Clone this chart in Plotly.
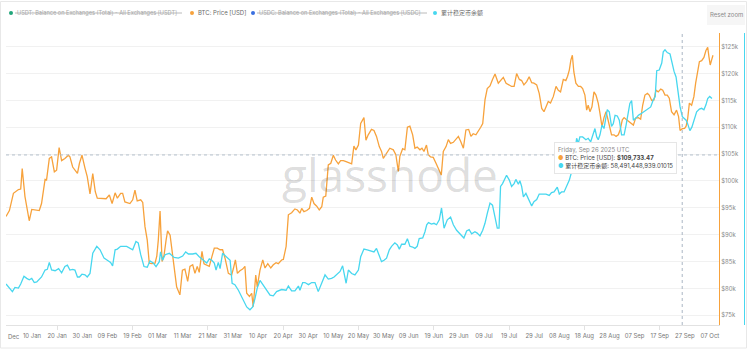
import plotly.graph_objects as go
import pandas as pd

# ---------------- data ----------------
# days since 2025-01-01
btc_days = [
    -1.35, 0.0, 1.6, 3.6, 4.5, 5.1, 6.2, 7.9, 8.9, 11.9,
    12.8, 14.2, 14.8, 15.9, 16.8, 17.9, 18.8, 19.8, 20.8, 22.1,
    23.5, 24.1, 25.2, 27.1, 27.9, 28.9, 30.1, 31.0, 32.1, 33.2,
    34.2, 35.0, 38.5, 39.8, 40.9, 42.1, 43.0, 44.3,
    45.1, 46.0, 48.0, 49.1, 50.0, 50.9, 52.3, 53.1, 54.0, 54.9,
    55.7, 56.7, 58.0, 58.7, 59.3, 60.0, 60.8, 61.6, 62.4, 63.0,
    64.0, 64.6, 65.6, 66.6, 67.9, 68.9, 69.9, 71.0, 71.9, 73.0,
    73.9, 74.8, 75.6, 76.7, 77.5, 78.6, 79.6, 80.7, 81.6, 82.8,
    83.9, 84.9, 85.9, 87.2, 88.5, 89.2, 90.0, 90.8, 91.8,
    92.9, 93.8, 94.5, 95.6, 96.5, 97.1, 98.1, 98.7, 99.8, 100.9,
    101.8, 102.9, 104.1, 105.1, 106.2, 107.1, 108.4, 109.1, 110.2, 111.1,
    112.4, 113.7, 114.7, 115.7, 116.4, 117.3, 118.4, 119.5, 120.4, 121.3,
    122.4, 123.4, 124.4, 125.0, 126.0, 127.0, 128.0, 129.0, 129.9, 131.0,
    131.9, 133.0, 134.1, 135.4, 136.3, 137.2, 138.0, 139.0, 139.9,
    141.2, 142.0, 142.9, 144.2, 145.2, 146.2, 147.3, 148.2, 148.9, 150.2,
    151.5, 152.9, 153.9, 154.9, 155.5, 156.6, 157.5, 158.5, 159.5, 160.6,
    161.5, 162.4, 163.5, 164.3, 165.1, 166.1, 166.8, 167.7, 168.8, 169.9,
    170.9, 172.0, 172.8, 173.9, 174.8, 175.7, 176.8, 177.8, 178.8, 179.7,
    180.8, 181.8, 182.9, 183.8, 184.7, 185.8, 186.7, 187.7,
    188.5, 189.4, 190.3, 191.4, 192.4, 193.4, 194.7, 195.6, 196.7, 197.8,
    198.7, 200.0, 201.0, 202.0, 203.1, 204.0, 204.9, 206.0, 207.0, 208.0,
    208.9, 210.0, 211.0, 212.0, 212.9, 213.7, 214.6, 215.5, 216.6, 217.7,
    218.6, 219.5, 220.6, 221.6, 222.3, 223.0, 223.6, 224.2, 224.8, 225.6,
    226.6, 227.5, 228.3, 229.2, 229.9, 230.5, 231.2, 232.0, 232.8, 233.6,
    234.5, 235.2, 236.0,
    236.8, 237.6, 238.4, 239.2, 239.8, 240.8, 241.6, 242.5, 243.2, 244.1,
    244.8, 245.8, 246.9, 247.8, 248.5, 249.4, 250.5, 251.4, 252.2, 253.1,
    254.1, 254.8, 255.8, 256.7, 257.5, 258.4, 259.4, 260.2, 261.1, 262.0,
    262.8, 263.7, 264.7, 265.7, 266.5, 267.1, 268.0, 268.9, 269.5, 270.1,
    270.8, 271.7, 272.6, 273.3, 274.0, 274.8, 275.7, 276.6, 277.4, 278.1,
    278.6, 279.1, 279.7, 280.2,
]
# BTC price, thousands of USD
btc_price = [
    93.4, 94.5, 97.7, 98.4, 98.5, 102.3, 97.1, 92.6, 94.7, 94.5,
    95.8, 100.3, 100.2, 104.2, 104.5, 101.7, 102.0, 106.2, 103.8, 104.2,
    104.8, 104.5, 102.6, 101.4, 103.3, 104.8, 102.4, 100.8, 97.6, 101.4,
    98.0, 96.8, 96.7, 97.4, 95.8, 97.8, 96.8, 97.7,
    97.7, 96.1, 95.8, 96.5, 98.3, 96.3, 96.5, 96.0, 91.5, 89.0,
    84.7, 84.6, 84.7, 86.0, 89.0, 94.4, 85.0, 86.2, 89.0, 90.7,
    89.9, 87.8, 84.1, 80.3, 78.8, 83.4, 83.6, 81.3, 84.1, 84.4,
    82.8, 84.1, 83.0, 86.9, 84.6, 84.3, 84.1, 86.0, 87.5, 87.5,
    87.2, 87.2, 85.6, 82.8, 82.5, 83.7, 85.3, 82.8, 83.3,
    83.6, 84.1, 79.1, 78.5, 79.1, 76.6, 82.5, 80.3, 83.4, 85.3,
    83.8, 84.6, 83.8, 84.4, 84.8, 84.6, 85.3, 85.4, 87.8, 93.7,
    94.1, 94.8, 94.6, 94.0, 94.9, 94.3, 94.5, 94.9, 97.0, 95.8,
    95.3, 94.6, 95.2, 97.0, 97.2, 103.0, 103.3, 104.8, 103.9, 103.2,
    103.8, 103.8, 103.6, 103.3, 103.2, 106.5, 105.8, 106.7, 110.7,
    111.8, 107.6, 108.6, 109.6, 109.4, 108.3, 106.4, 105.5, 104.2, 105.2,
    106.1, 105.8, 104.9, 101.8, 104.6, 106.0, 105.8, 110.0, 110.2, 108.6,
    106.1, 106.3, 105.8, 106.1, 105.5, 106.7, 104.9, 104.5, 104.4, 103.3,
    102.3, 101.1, 105.5, 106.4, 107.7, 107.0, 107.2, 107.7, 108.3, 107.4,
    106.1, 109.5, 109.6, 108.3, 108.8, 108.6, 109.4, 110.0,
    110.7, 115.1, 117.2, 117.7, 118.9, 119.9, 118.2, 118.8, 119.3, 118.2,
    117.9, 117.6, 117.6, 120.0, 118.9, 118.7, 117.9, 118.5, 119.4, 118.3,
    118.2, 117.9, 116.3, 113.5, 112.9, 113.8, 114.8, 114.5, 115.7, 117.6,
    116.9, 116.6, 118.9, 118.7, 119.5, 120.7, 122.5, 123.4, 120.3, 118.2,
    117.6, 117.6, 117.2, 116.0, 113.2, 114.1, 112.9, 113.8, 116.6, 116.0,
    114.5, 112.6, 110.1,
    111.8, 112.9, 111.4, 109.8, 108.6, 108.6, 108.3, 108.6, 109.5, 111.4,
    111.8, 111.4, 111.0, 110.7, 110.4, 111.7, 111.8, 111.5, 114.1, 116.0,
    116.3, 116.0, 115.0, 115.1, 116.9, 116.6, 117.1, 116.9, 116.0, 116.0,
    115.4, 112.9, 112.3, 113.2, 112.0, 109.4, 109.73, 109.8, 110.2, 111.5,
    114.5, 114.1, 115.7, 118.2, 120.3, 122.2, 122.4, 123.0, 124.3, 124.9,
    123.1, 121.6, 122.6, 123.4,
]

stable_days = [
    -1.35, 0.0, 1.2, 2.2, 3.6, 4.5, 5.8, 6.9, 7.9, 8.9,
    9.9, 10.9, 12.8, 14.2, 15.1, 15.9, 16.8, 18.2, 19.6, 20.8,
    22.1, 23.1, 24.1, 25.2, 26.1, 27.1, 27.9, 28.9, 30.1, 31.0,
    32.1, 33.2, 34.8, 36.1, 37.7, 39.0, 40.3, 41.1, 42.1, 43.0, 44.3,
    46.7, 48.0, 49.1, 50.4, 51.3, 52.3, 53.6, 54.9, 56.0, 57.3,
    58.4, 59.7, 60.2, 61.0, 62.0, 63.7, 65.6, 67.3, 69.0, 70.2,
    71.3, 73.0, 74.3, 75.6, 77.2, 78.6, 79.6, 80.6, 81.6, 82.3,
    83.2, 83.9, 84.9, 86.3, 87.9, 88.7, 89.8, 91.2, 92.1,
    93.2, 94.5, 95.8, 96.9, 97.8, 98.7, 99.8, 100.9, 102.2, 103.8,
    105.1, 106.4, 108.4, 110.2, 111.1, 112.4, 113.7, 115.1, 115.7, 116.8,
    117.7, 119.1, 120.4, 121.7, 123.0, 124.4, 125.7, 127.0, 128.3, 129.3,
    130.6, 131.7, 132.7, 133.3, 134.1, 135.0, 136.3, 137.6, 139.0, 139.9,
    141.2, 142.5, 143.8, 145.2, 146.2, 147.3, 148.2, 149.2, 150.2, 151.3,
    152.2, 153.5, 154.5, 155.3, 156.2, 157.5, 158.5, 159.5, 160.6, 161.5,
    162.4, 163.2, 164.6, 165.5, 166.2, 166.9, 168.1, 169.1, 170.1, 171.2,
    172.1, 173.1, 174.4, 175.7, 176.8, 178.1, 179.4, 181.0, 182.1, 183.1,
    184.1, 185.4, 186.3, 187.4,
    188.5, 189.4, 190.3, 191.4, 192.4, 193.4, 194.3, 195.0, 195.6, 196.4,
    197.4, 198.0, 199.1, 200.0, 201.0, 201.7, 202.7, 203.3, 204.0, 204.7,
    205.7, 206.6, 208.0, 208.9, 210.0, 211.0, 212.4, 213.7, 215.0, 215.9,
    216.9, 218.2, 219.0, 219.9, 220.9, 221.9, 223.0, 223.9, 224.8, 225.9,
    226.6, 227.2, 228.3, 229.6, 230.5, 231.5, 232.3, 233.2, 233.9, 234.5,
    235.2, 236.0,
    236.8, 238.1, 238.9, 239.8, 240.5, 241.2, 242.1, 242.9, 243.8, 244.8,
    245.6, 246.4, 247.1, 247.8, 248.5, 249.5, 250.5, 251.4, 252.5, 253.5,
    254.5, 255.4, 256.4, 257.2, 257.8, 258.8, 259.8, 260.4, 261.1, 262.0,
    263.1, 263.9, 264.7, 265.5, 266.3, 267.1, 268.0, 268.7, 269.5, 270.1,
    271.0, 271.8, 272.8, 273.7, 274.8, 275.7, 276.6, 277.4, 278.1, 278.9,
    279.8,
]
# cumulative stablecoin balance on exchanges, billions of USD
stable_total = [
    34.5, 33.9, 33.4, 34.0, 33.9, 34.5, 35.6, 35.3, 35.1, 35.3,
    34.7, 34.8, 35.5, 36.5, 36.6, 37.6, 36.5, 36.4, 36.7, 36.1,
    37.0, 37.2, 36.5, 36.6, 36.5, 35.5, 35.5, 35.9, 35.8, 35.5,
    36.0, 38.9, 39.9, 39.4, 38.2, 37.9, 37.6, 37.1, 39.4, 39.5, 39.9,
    39.9, 39.6, 39.4, 40.6, 40.4, 38.7, 37.0, 36.9, 37.8, 37.5,
    37.0, 37.7, 39.1, 37.9, 38.7, 38.9, 38.3, 38.2, 38.5, 39.1,
    38.8, 38.8, 38.9, 38.4, 37.9, 37.5, 38.1, 37.9, 37.5, 36.5,
    37.6, 36.7, 38.9, 38.4, 37.9, 34.6, 34.4, 33.6, 32.9,
    32.2, 31.2, 30.8, 31.2, 32.4, 33.9, 35.0, 34.4, 33.6, 32.9,
    32.8, 33.4, 33.7, 33.6, 34.2, 33.5, 33.5, 34.2, 33.6, 34.7,
    34.7, 34.4, 34.7, 34.7, 33.4, 34.6, 35.8, 35.2, 35.3, 35.5,
    36.0, 36.3, 37.1, 35.8, 34.6, 36.5, 36.0, 35.8, 36.5, 38.4,
    39.5, 39.4, 39.3, 39.1, 39.6, 38.7, 37.7, 37.9, 38.2, 39.4,
    39.9, 40.4, 40.1, 39.5, 40.2, 40.2, 41.0, 39.9, 39.8, 39.6,
    39.9, 41.0, 41.1, 42.0, 43.0, 43.3, 43.1, 43.2, 43.0, 43.7,
    45.4, 42.5, 43.7, 44.1, 43.0, 42.2, 41.7, 41.1, 42.1, 42.3,
    41.7, 42.0, 41.8, 41.4,
    42.2, 43.2, 44.6, 46.1, 45.8, 44.2, 42.5, 42.5, 48.5, 48.9,
    49.7, 50.1, 49.4, 48.5, 48.9, 49.5, 48.8, 49.3, 48.5, 47.0,
    47.5, 46.8, 45.7, 46.3, 46.6, 47.4, 47.4, 47.4, 47.2, 47.6,
    47.7, 48.4, 47.4, 47.7, 47.7, 48.5, 49.4, 50.6, 52.3, 55.4,
    54.7, 55.6, 55.6, 55.2, 55.4, 54.9, 55.9, 56.8, 55.6, 55.2,
    55.9, 57.3,
    56.8, 59.5, 59.2, 57.1, 57.5, 58.7, 58.6, 58.0, 55.9, 55.9,
    57.3, 59.0, 60.4, 60.8, 58.0, 58.3, 58.7, 58.9, 59.2, 59.4,
    59.7, 59.9, 60.9, 61.4, 65.1, 65.2, 66.2, 67.8, 68.1, 67.7,
    67.5, 66.2, 65.0, 64.2, 61.6, 59.9, 58.49, 58.3, 58.0, 57.5,
    56.5, 57.0, 58.3, 59.2, 59.6, 59.7, 59.5, 60.2, 61.1, 61.4,
    61.1,
]

legend_names = [
    "USDT: Balance on Exchanges (Total) - All Exchanges [USDT]",
    "BTC: Price [USD]",
    "USDC: Balance on Exchanges (Total) - All Exchanges [USDC]",
    "累计稳定币余额",
]
# x tick positions (label text comes from the date format "%d %b")
x_tick_dates = [
    "2025-01-10", "2025-01-20", "2025-01-30", "2025-02-09", "2025-02-19",
    "2025-03-01", "2025-03-11", "2025-03-21", "2025-03-31", "2025-04-10",
    "2025-04-20", "2025-04-30", "2025-05-10", "2025-05-20", "2025-05-30",
    "2025-06-09", "2025-06-19", "2025-06-29", "2025-07-09", "2025-07-19",
    "2025-07-29", "2025-08-08", "2025-08-18", "2025-08-28", "2025-09-07",
    "2025-09-17", "2025-09-27", "2025-10-07",
]
first_tick_label = "Dec"
tooltip_date = "Friday, Sep 26 2025 UTC"
tooltip_day = 267.95
tooltip_btc = "$109,733.47"
tooltip_stable = "58,491,448,939.01015"
crosshair_price = 104.85

# ---------------- styling ----------------
ORANGE = "#f7a23c"
CYAN = "#47d7ef"
FONT = "Inter, Noto Sans CJK SC, sans-serif"

W, H = 747, 349
ML, MR, MT, MB = 6, 3, 33, 24
PW = W - ML - MR
PH = H - MT - MB


def px(x):
    return (x - ML) / PW


def py(y):
    return (H - MB - y) / PH


XDOM = (719 - ML) / PW
base = pd.Timestamp("2025-01-01")


def to_dates(days):
    return [base + pd.Timedelta(days=d) for d in days]


fig = go.Figure()
fig.add_trace(go.Scatter(
    x=to_dates(btc_days), y=btc_price, mode="lines", name=legend_names[1],
    line=dict(color=ORANGE, width=1.3), yaxis="y", showlegend=False,
))
fig.add_trace(go.Scatter(
    x=to_dates(stable_days), y=stable_total, mode="lines", name=legend_names[3],
    line=dict(color=CYAN, width=1.3), yaxis="y2", showlegend=False,
))

shapes = []
annotations = []

# outer frame
shapes.append(dict(type="rect", xref="paper", yref="paper",
                   x0=px(0.5), x1=px(746.5), y0=py(348), y1=py(1.5),
                   line=dict(color="#e8e8e8", width=1), layer="below"))

# crosshair lines
shapes.append(dict(type="line", xref="x", yref="paper",
                   x0=base + pd.Timedelta(days=tooltip_day),
                   x1=base + pd.Timedelta(days=tooltip_day),
                   y0=0, y1=1, line=dict(color="#aab6c4", width=1, dash="dot")))
shapes.append(dict(type="line", xref="paper", yref="y",
                   x0=0, x1=XDOM, y0=crosshair_price, y1=crosshair_price,
                   line=dict(color="#b4c0cc", width=1, dash="dot")))

# legend (custom, with strike-through for hidden series)
leg_items = [
    (11, "#21a67a", legend_names[0], 15, True, 182),
    (192, ORANGE, legend_names[1], 196, False, None),
    (253, "#3a6fe0", legend_names[2], 257, True, 427),
    (435, CYAN, legend_names[3], 439, False, None),
]
LEG_Y = 13
for dot_x, col, name, tx, struck, tend in leg_items:
    shapes.append(dict(type="circle", xref="paper", yref="paper",
                       x0=px(dot_x - 2), x1=px(dot_x + 2),
                       y0=py(LEG_Y + 2), y1=py(LEG_Y - 2),
                       fillcolor=col, line=dict(width=0)))
    annotations.append(dict(
        xref="paper", yref="paper", x=px(tx), y=py(LEG_Y),
        xanchor="left", yanchor="middle", showarrow=False, text=name,
        font=dict(family=FONT, size=5.6 if struck else 6,
                  color="#a8a8a8" if struck else "#6a6a6a"),
    ))
    if struck:
        shapes.append(dict(type="line", xref="paper", yref="paper",
                           x0=px(tx), x1=px(tend), y0=py(LEG_Y), y1=py(LEG_Y),
                           line=dict(color="#a8a8a8", width=0.8)))

# reset zoom button
shapes.append(dict(type="rect", xref="paper", yref="paper",
                   x0=px(707), x1=px(745), y0=py(25), y1=py(5),
                   fillcolor="#f6f6f6", line=dict(width=0)))
annotations.append(dict(xref="paper", yref="paper", x=px(726), y=py(15),
                        xanchor="center", yanchor="middle", showarrow=False,
                        text="Reset zoom",
                        font=dict(family=FONT, size=6, color="#8a8a8a")))

# first (clipped) x tick label as in the reference
annotations.append(dict(xref="paper", yref="paper", x=px(6), y=py(336),
                        xanchor="left", yanchor="middle", showarrow=False,
                        text=first_tick_label,
                        font=dict(family=FONT, size=6, color="#777")))

# watermark
annotations.append(dict(xref="paper", yref="paper", x=px(390), y=py(174),
                        xanchor="center", yanchor="middle", showarrow=False,
                        text="glassnode",
                        font=dict(family="Open Sans", size=46,
                                  color="rgba(0,0,0,0.15)")))

# tooltip
tip = (f"<span style='color:#8a8a8a'>{tooltip_date}</span><br>"
       f"<span style='color:{ORANGE}'>●</span> {legend_names[1]}: <b>{tooltip_btc}</b><br>"
       f"<span style='color:{CYAN}'>●</span> {legend_names[3]}: {tooltip_stable}")
annotations.append(dict(xref="paper", yref="paper", x=px(554), y=py(142),
                        xanchor="left", yanchor="top", showarrow=False,
                        text=tip, align="left", bgcolor="white",
                        bordercolor="#e6e6e6", borderwidth=1, borderpad=3,
                        font=dict(family=FONT, size=6, color="#444")))

day_ms = 86400000
fig.update_layout(
    width=W, height=H,
    margin=dict(l=ML, r=MR, t=MT, b=MB, autoexpand=False),
    paper_bgcolor="white", plot_bgcolor="white",
    showlegend=False, hovermode=False,
    font=dict(family=FONT, size=6, color="#777"),
    xaxis=dict(
        domain=[0, XDOM], type="date",
        range=[base + pd.Timedelta(days=-1.354), base + pd.Timedelta(days=282.6)],
        tickmode="array", tickvals=x_tick_dates, tickformat="%d %b",
        showgrid=False, zeroline=False, showline=True, linecolor="#e2e2e2",
        linewidth=1, ticks="", tickfont=dict(size=6, color="#777"),
        automargin=False, ticklabeloverflow="allow", ticklabelstandoff=5,
        minor=dict(ticks="outside", ticklen=4, tickcolor="#e2e2e2",
                   tick0="2025-01-20", dtick=30 * day_ms, showgrid=False),
    ),
    yaxis=dict(
        domain=[0, 1], range=[73.19, 127.55], side="right", anchor="x",
        tick0=75, dtick=5, tickprefix="$", ticksuffix="k",
        showgrid=True, gridcolor="#f1f1f1", zeroline=False,
        showline=True, linecolor=ORANGE, linewidth=1, ticks="",
        tickfont=dict(size=6, color="#8a8a8a"), automargin=False,
    ),
    yaxis2=dict(
        overlaying="y", side="right", anchor="free", position=1.0,
        range=[28.61, 70.51], showgrid=False, zeroline=False,
        showline=True, linecolor=CYAN, linewidth=1, showticklabels=False,
        ticks="", automargin=False,
    ),
    shapes=shapes,
    annotations=annotations,
)

fig.write_html("out.html", config={"displayModeBar": False})
